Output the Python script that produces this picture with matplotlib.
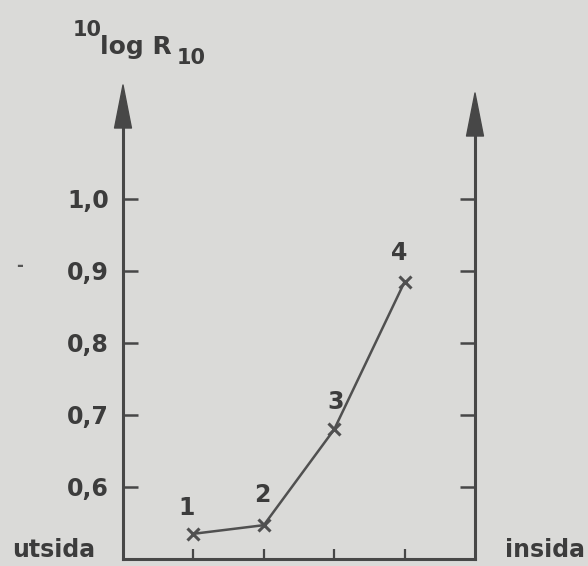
import matplotlib
matplotlib.use("Agg")
import matplotlib.pyplot as plt
from matplotlib.patches import Polygon

# data
positions = [1, 2, 3, 4]
values = [0.535, 0.547, 0.680, 0.885]
point_labels = ["1", "2", "3", "4"]
ytick_values = [0.6, 0.7, 0.8, 0.9, 1.0]
ytick_labels = ["0,6", "0,7", "0,8", "0,9", "1,0"]

W, H = 588, 566
bg = "#dadad8"
ink = "#474747"

fig = plt.figure(figsize=(W / 100, H / 100), dpi=100, facecolor=bg)
# axes: x 0..5 -> px 123..475 ; y 0.5.. -> px 559 upward, 720 px per unit
x0, x1 = 123, 475
ybot, ytop = 559, 85
ax = fig.add_axes([x0 / W, (H - ybot) / H, (x1 - x0) / W, (ybot - ytop) / H])
ax.set_facecolor("none")
ymax = 0.5 + (ybot - ytop) / 720
ax.set_xlim(0, 5)
ax.set_ylim(0.5, ymax)

ax.spines["top"].set_visible(False)
for s in ["left", "right", "bottom"]:
    ax.spines[s].set_color(ink)
    ax.spines[s].set_linewidth(2.2)
right_top = 0.5 + (ybot - 93) / 720
ax.spines["right"].set_bounds(0.5, right_top - 0.03)
ax.spines["left"].set_bounds(0.5, ymax - 0.03)

ax.set_yticks(ytick_values)
ax.set_yticklabels(ytick_labels)
ax.set_xticks(positions)
ax.set_xticklabels([])
ax.tick_params(axis="y", which="both", direction="in", length=11, width=1.8,
               color=ink, left=True, right=True, labelleft=True, labelright=False,
               pad=10, labelsize=17, labelcolor="#3c3c3c")
ax.tick_params(axis="x", direction="in", length=7, width=1.6, color=ink)
for lab in ax.get_yticklabels():
    lab.set_fontweight("bold")

# arrow heads (axis decorations)
def head(xd, ytip):
    hh = 43 / 720
    hw = 0.24
    poly = Polygon([[xd, ytip], [xd - hw / 2, ytip - hh], [xd + hw / 2, ytip - hh]],
                   closed=True, facecolor=ink, edgecolor=ink, lw=1, clip_on=False,
                   joinstyle="round")
    ax.add_patch(poly)

head(0, ymax)
head(5, right_top)

# data line
ax.plot(positions, values, color="#505050", lw=1.8, marker="x", ms=9, mew=2.2,
        clip_on=False)
offsets = [(-5, 10), (-1, 13), (1, 11), (-4, 12)]
for xp, yv, lab, (dx, dy) in zip(positions, values, point_labels, offsets):
    ax.annotate(lab, (xp, yv), xytext=(dx, dy), textcoords="offset points",
                ha="center", va="bottom", fontsize=17, fontweight="bold", color="#3c3c3c")

# side labels
fig.text(12 / W, 1 - 550 / H, "utsida", ha="left", va="center", fontsize=17,
         fontweight="bold", color="#3c3c3c")
fig.text(585 / W, 1 - 550 / H, "insida", ha="right", va="center", fontsize=17,
         fontweight="bold", color="#3c3c3c")

# title 10logR10
fig.text(73 / W, 1 - 30 / H, "10", ha="left", va="center", fontsize=15,
         fontweight="bold", color="#3c3c3c")
fig.text(100 / W, 1 - 47 / H, "log R", ha="left", va="center", fontsize=18,
         fontweight="bold", color="#3c3c3c")
fig.text(177 / W, 1 - 58 / H, "10", ha="left", va="center", fontsize=15,
         fontweight="bold", color="#3c3c3c")

# stray mark
fig.text(20 / W, 1 - 266 / H, "-", ha="center", va="center", fontsize=12,
         fontweight="bold", color="#555555")

fig.savefig("out.png", dpi=100, facecolor=bg)
